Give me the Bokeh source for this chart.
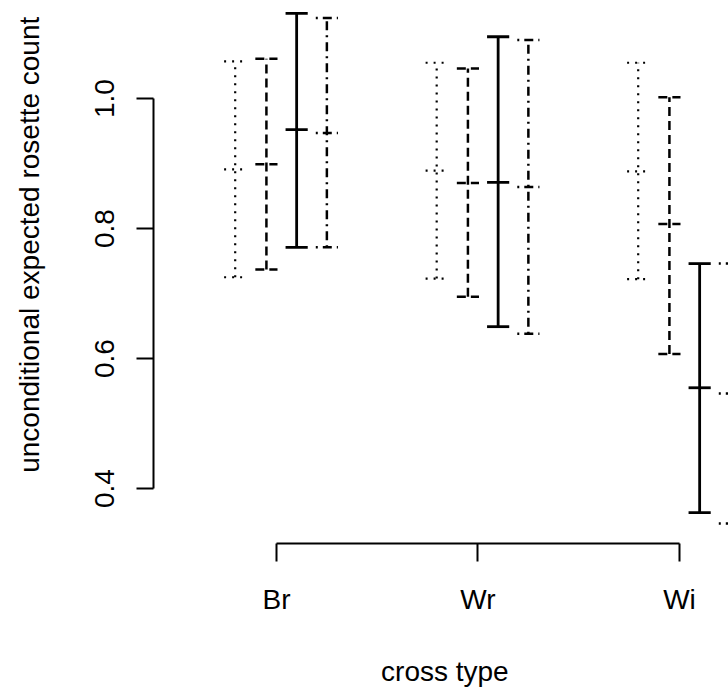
from bokeh.plotting import figure
from bokeh.models import FixedTicker, Range1d
from bokeh.embed import file_html
from bokeh.resources import INLINE

# ---- data ----
categories = ["Br", "Wr", "Wi"]
cat_pos = [1, 2, 3]

dotted_lower = [0.725, 0.723, 0.722]
dotted_mid = [0.891, 0.889, 0.888]
dotted_upper = [1.057, 1.055, 1.055]

dashed_lower = [0.737, 0.695, 0.607]
dashed_mid = [0.899, 0.870, 0.807]
dashed_upper = [1.061, 1.046, 1.002]

solid_lower = [0.771, 0.649, 0.363]
solid_mid = [0.952, 0.871, 0.555]
solid_upper = [1.131, 1.095, 0.746]

dotdash_lower = [0.771, 0.638, 0.346]
dotdash_mid = [0.947, 0.864, 0.546]
dotdash_upper = [1.124, 1.090, 0.746]

y_ticks = [0.4, 0.6, 0.8, 1.0]
y_tick_labels = ["0.4", "0.6", "0.8", "1.0"]

x_title = "cross type"
y_title = "unconditional expected rosette count"

# ---- styling / layout ----
FONT = "Liberation Sans"
FS = "28px"
series = [
    (dotted_lower, dotted_mid, dotted_upper, -0.205, "2 6", 2.2),
    (dashed_lower, dashed_mid, dashed_upper, -0.050, "9 5", 2.5),
    (solid_lower, solid_mid, solid_upper, 0.100, "solid", 2.8),
    (dotdash_lower, dotdash_mid, dotdash_upper, 0.250, "2 5 9 5", 2.5),
]
cap = 0.055

p = figure(width=728, height=694, output_backend="svg", toolbar_location=None,
           x_range=Range1d(0.3896, 3.2432), y_range=Range1d(0.3154, 1.1508),
           min_border_left=153, min_border_right=0, min_border_top=0,
           min_border_bottom=151)
p.outline_line_color = None
p.xgrid.grid_line_color = None
p.ygrid.grid_line_color = None
p.background_fill_color = "white"
p.border_fill_color = "white"

for lo, mid, up, off, dash, lw in series:
    xs = [c + off for c in cat_pos]
    p.segment(x0=xs, y0=lo, x1=xs, y1=up, line_color="black", line_width=lw, line_dash=dash)
    for vals in (lo, mid, up):
        p.segment(x0=[x - cap for x in xs], y0=vals, x1=[x + cap for x in xs], y1=vals,
                  line_color="black", line_width=lw, line_dash=dash)

xa = p.xaxis[0]
xa.ticker = FixedTicker(ticks=cat_pos)
xa.major_label_overrides = {c: n for c, n in zip(cat_pos, categories)}
xa.bounds = (1, 3)
xa.minor_tick_line_color = None
xa.major_tick_out = 18
xa.major_tick_in = 0
xa.axis_line_width = 2
xa.major_tick_line_width = 2
xa.major_label_standoff = 22
xa.major_label_text_font = FONT
xa.major_label_text_font_size = FS
xa.major_label_text_color = "black"
xa.axis_label = "\u00a0" + x_title
xa.axis_label_text_font = FONT
xa.axis_label_text_font_size = FS
xa.axis_label_text_font_style = "normal"
xa.axis_label_text_color = "black"
xa.axis_label_standoff = 38

ya = p.yaxis[0]
ya.ticker = FixedTicker(ticks=y_ticks)
ya.major_label_overrides = {t: s for t, s in zip(y_ticks, y_tick_labels)}
ya.bounds = (0.4, 1.0)
ya.minor_tick_line_color = None
ya.major_tick_out = 17
ya.major_tick_in = 0
ya.axis_line_width = 2
ya.major_tick_line_width = 2
ya.major_label_orientation = "vertical"
ya.major_label_standoff = 22
ya.major_label_text_font = FONT
ya.major_label_text_font_size = FS
ya.major_label_text_color = "black"
# leading no-break spaces shift the centred (bottom-to-top) title upwards, as in the original
ya.axis_label = "\u00a0" * 7 + y_title
ya.axis_label_text_font = FONT
ya.axis_label_text_font_size = FS
ya.axis_label_text_font_style = "normal"
ya.axis_label_text_color = "black"
ya.axis_label_standoff = 48

open("out.html", "w").write(file_html(p, INLINE))
